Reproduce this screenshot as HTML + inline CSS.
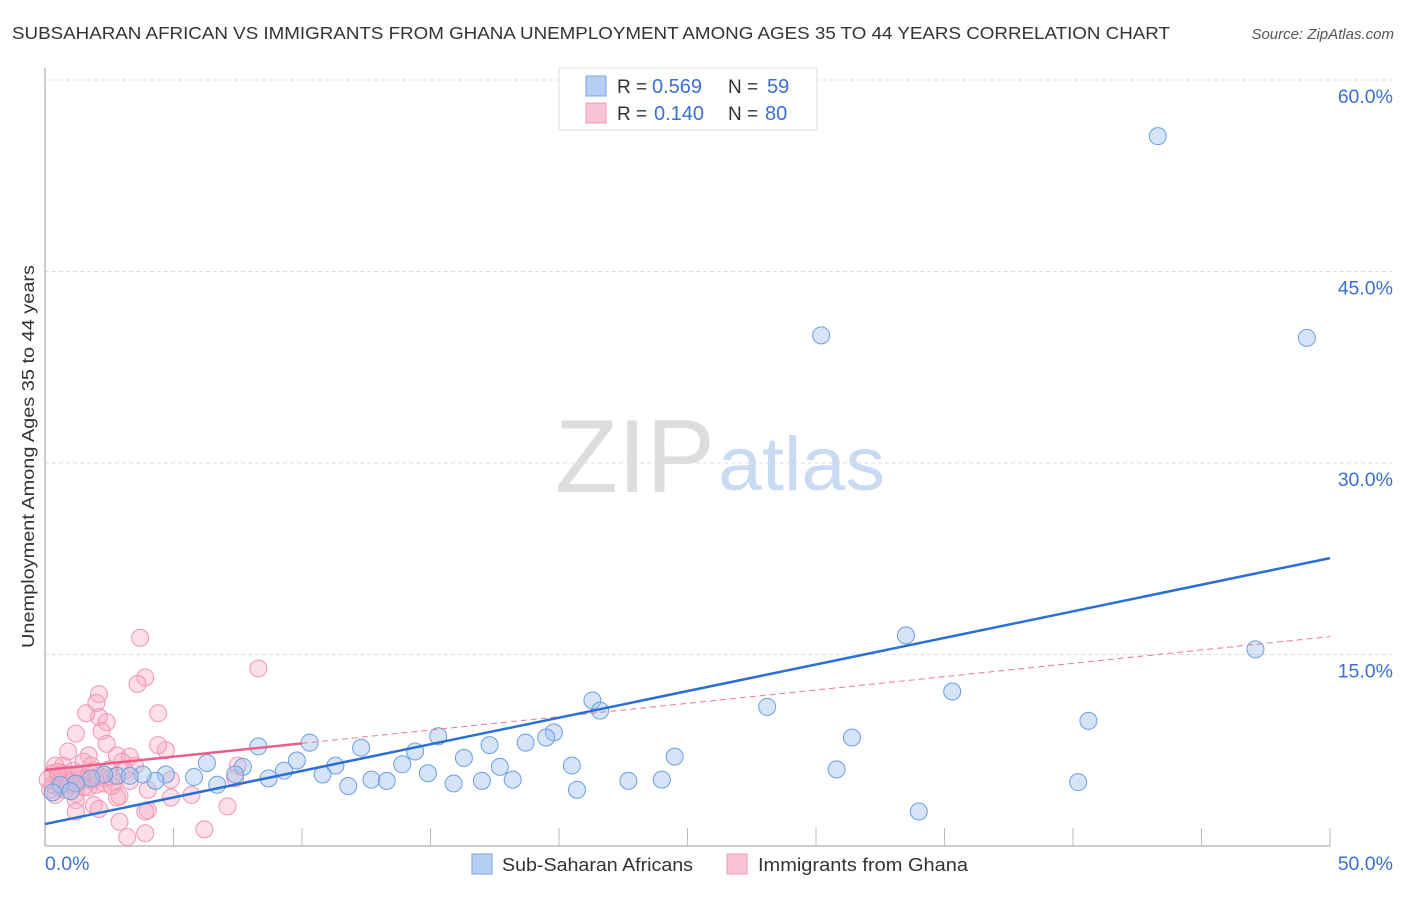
<!DOCTYPE html>
<html><head><meta charset="utf-8"><style>
body{margin:0;background:#fff;font-family:"Liberation Sans",sans-serif}
svg text{font-family:"Liberation Sans",sans-serif}
</style></head><body>
<svg id="chart" width="1406" height="892" viewBox="0 0 1406 892">
<text x="12" y="39" font-size="17.5" fill="#333" textLength="1158" lengthAdjust="spacingAndGlyphs">SUBSAHARAN AFRICAN VS IMMIGRANTS FROM GHANA UNEMPLOYMENT AMONG AGES 35 TO 44 YEARS CORRELATION CHART</text>
<text x="1394" y="39" font-size="15" fill="#555" font-style="italic" text-anchor="end">Source: ZipAtlas.com</text>
<text transform="translate(34,648) rotate(-90)" font-size="17.5" fill="#333" textLength="383" lengthAdjust="spacingAndGlyphs">Unemployment Among Ages 35 to 44 years</text>
<g>
<text x="555" y="492" font-size="104" fill="#ddd" font-family="Liberation Serif,serif" textLength="160" lengthAdjust="spacingAndGlyphs">ZIP</text>
<text x="718" y="490" font-size="76" fill="#c9dbf3" textLength="167" lengthAdjust="spacingAndGlyphs">atlas</text>
</g>
<g id="grid"></g>
<g id="axes"></g>
<g id="marks"></g>
<g>
<rect x="559" y="68" width="258" height="62" fill="#fff" stroke="#ddd"/>
<rect x="586" y="76" width="20" height="20" fill="#b6cff3" stroke="#7aa6e2"/>
<rect x="586" y="103" width="20" height="20" fill="#f9c4d3" stroke="#f09ab3"/>
<text x="617" y="93" font-size="19" fill="#333">R =</text>
<text x="652" y="93" font-size="20" fill="#3a6fd8">0.569</text>
<text x="728" y="93" font-size="19" fill="#333">N =</text>
<text x="767" y="93" font-size="20" fill="#3a6fd8">59</text>
<text x="617" y="120" font-size="19" fill="#333">R =</text>
<text x="654" y="120" font-size="20" fill="#3a6fd8">0.140</text>
<text x="728" y="120" font-size="19" fill="#333">N =</text>
<text x="765" y="120" font-size="20" fill="#3a6fd8">80</text>
</g>
<g>
<rect x="472" y="854" width="20" height="20" fill="#b6cff3" stroke="#7aa6e2"/>
<text x="502" y="871" font-size="18.5" fill="#333" textLength="191" lengthAdjust="spacingAndGlyphs">Sub-Saharan Africans</text>
<rect x="727" y="854" width="20" height="20" fill="#f9c4d3" stroke="#f09ab3"/>
<text x="758" y="871" font-size="18.5" fill="#333" textLength="210" lengthAdjust="spacingAndGlyphs">Immigrants from Ghana</text>
</g>
</svg>
<script>
const yTicks=[15,30,45,60];
const yTickLabels=["15.0%","30.0%","45.0%","60.0%"];
const xTickLabels=["0.0%","50.0%"];
const blueX=[43.3,30.2,49.1,33.5,47.1,35.3,21.3,21.6,28.1,40.6,31.4,19.8,19.5,15.3,10.3,8.3,12.3,14.4,17.3,18.7,16.3,24.5,6.3,9.8,13.9,11.3,20.5,17.7,30.8,9.3,14.9,10.8,7.7,7.4,8.7,12.7,13.3,18.2,17.0,15.9,11.8,22.7,24.0,40.2,20.7,34.0,6.7,5.8,4.7,4.3,3.8,2.8,2.3,1.8,1.2,0.6,0.3,1.0,3.3];
const blueY=[55.6,40.0,39.8,16.5,15.4,12.1,11.4,10.6,10.9,9.8,8.5,8.9,8.5,8.6,8.1,7.8,7.7,7.4,7.9,8.1,6.9,7.0,6.5,6.7,6.4,6.3,6.3,6.2,6.0,5.9,5.7,5.6,6.2,5.6,5.3,5.2,5.1,5.2,5.1,4.9,4.7,5.1,5.2,5.0,4.4,2.7,4.8,5.4,5.6,5.1,5.6,5.5,5.6,5.3,4.9,4.8,4.2,4.3,5.5];
const pinkX=[3.7,3.9,3.6,8.3,2.1,2.0,2.1,1.6,2.4,4.4,2.2,1.2,2.4,4.7,4.4,0.9,1.7,2.8,3.3,3.0,1.5,7.5,0.7,0.4,3.5,2.5,1.9,7.4,4.9,3.3,2.7,1.3,0.9,1.7,0.6,0.2,1.2,4.0,2.9,4.9,5.7,1.2,2.8,1.9,2.1,4.0,3.9,1.2,7.1,2.9,6.2,3.9,3.2,0.3,0.5,0.8,1.1,1.4,1.7,1.9,2.3,0.5,0.8,0.3,1.4,0.7,1.1,2.0,2.3,0.4,0.8,2.6,3.1,1.8,0.1,1.0,2.1,0.5,1.5,2.6];
const pinkY=[16.3,13.2,12.7,13.9,11.9,11.2,10.1,10.4,9.7,10.4,9.0,8.8,8.0,7.5,7.9,7.4,7.1,7.1,7.0,6.6,6.6,6.3,6.3,6.3,6.3,6.0,5.9,5.3,5.2,5.1,5.0,4.9,4.8,4.6,4.5,4.4,4.1,4.4,3.9,3.8,4.0,3.6,3.8,3.2,2.9,2.8,2.7,2.7,3.1,1.9,1.3,1.0,0.7,5.7,5.3,5.6,5.4,5.5,5.2,5.2,5.3,5.0,5.2,4.8,5.2,5.7,5.9,4.8,4.9,4.0,4.4,4.7,5.9,6.3,5.2,5.0,5.5,5.8,4.6,5.4];
const blueLine=[1.72,22.55];
const pinkLine=[5.95,16.4];
const pinkSolidEnd=10;
const X0=45,X1=1330,Y0=846,Y60=80;
const sx=v=>X0+(v/50)*(X1-X0);
const sy=v=>Y0-(v/60)*(Y0-Y60);
const NS="http://www.w3.org/2000/svg";
function mk(t,a,p){const e=document.createElementNS(NS,t);for(const k in a)e.setAttribute(k,a[k]);p.appendChild(e);return e;}
const grid=document.getElementById('grid'),axes=document.getElementById('axes'),marks=document.getElementById('marks');
yTicks.forEach((t,i)=>{
 const l=mk('line',{x1:X0,x2:1392,y1:sy(t),y2:sy(t),stroke:'#ddd','stroke-dasharray':'4,3'},grid);
 
 
 const tx=mk('text',{x:1393,y:sy(t)+23,'font-size':19.5,fill:'#3a6fd8','text-anchor':'end'},axes);
 tx.textContent=yTickLabels[i];
 
 
});
const ya=mk('line',{x1:X0,x2:X0,y1:68,y2:Y0,stroke:'#bbb','stroke-width':1.5},axes);


const xa=mk('line',{x1:X0,x2:X1,y1:Y0,y2:Y0,stroke:'#bbb','stroke-width':1.5},axes);


for(let v=5;v<=50;v+=5){
 const t=mk('line',{x1:sx(v),x2:sx(v),y1:828,y2:Y0,stroke:'#bbb'},axes);
 
 
}
const xl0=mk('text',{x:45,y:870,'font-size':19.5,fill:'#3a6fd8'},axes);xl0.textContent=xTickLabels[0];


const xl1=mk('text',{x:1393,y:870,'font-size':19.5,fill:'#3a6fd8','text-anchor':'end'},axes);xl1.textContent=xTickLabels[1];


pinkX.forEach((x,i)=>{
 const c=mk('circle',{cx:sx(x),cy:sy(pinkY[i]),r:8.5,fill:'rgba(248,175,197,0.4)',stroke:'#f095b0','stroke-width':1},marks);
 
 
});
blueX.forEach((x,i)=>{
 const c=mk('circle',{cx:sx(x),cy:sy(blueY[i]),r:8.5,fill:'rgba(163,196,240,0.45)',stroke:'#6c9ee0','stroke-width':1},marks);
 
 
});
const pAt=v=>pinkLine[0]+(pinkLine[1]-pinkLine[0])*v/50;
const pd=mk('line',{x1:sx(pinkSolidEnd),y1:sy(pAt(pinkSolidEnd)),x2:sx(50),y2:sy(pinkLine[1]),stroke:'#e8789a','stroke-width':1,'stroke-dasharray':'6,4'},marks);


const ps=mk('line',{x1:sx(0),y1:sy(pinkLine[0]),x2:sx(pinkSolidEnd),y2:sy(pAt(pinkSolidEnd)),stroke:'#e8608a','stroke-width':2.5},marks);


const bl=mk('line',{x1:sx(0),y1:sy(blueLine[0]),x2:sx(50),y2:sy(blueLine[1]),stroke:'#2a6fd6','stroke-width':2.5},marks);


</script>
</body></html>
